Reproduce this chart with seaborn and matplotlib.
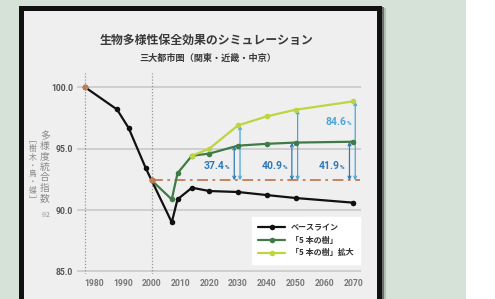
import seaborn as sns
import pandas as pd
import matplotlib.pyplot as plt
import numpy as np
from matplotlib.patches import Rectangle

# data
base_years = [1977, 1988, 1992, 1998, 2000, 2007, 2009, 2014, 2020, 2030, 2040, 2050, 2070]
base_vals = [100.0, 98.2, 96.7, 93.4, 92.42, 89.0, 90.87, 91.82, 91.55, 91.47, 91.22, 90.98, 90.6]

trees_years = [2000, 2007, 2009, 2014, 2020, 2030, 2040, 2050, 2070]
trees_vals = [92.42, 90.87, 93.0, 94.43, 94.6, 95.25, 95.4, 95.5, 95.57]

expand_years = [2014, 2020, 2030, 2040, 2050, 2070]
expand_vals = [94.43, 95.0, 96.9, 97.64, 98.18, 98.86]

ref_years = [1977, 2000]
ref_vals = [100.0, 92.42]
ref_level = 92.42

arrow_years = [2030, 2050, 2070]
trees_pct = ['37.4', '40.9', '41.9']
expand_pct = [None, None, '84.6']

series_labels = ['ベースライン', '「5 本の樹」', '「5 本の樹」拡大']
x_ticks = [1980, 1990, 2000, 2010, 2020, 2030, 2040, 2050, 2060, 2070]
y_ticks = [85, 90, 95, 100]

jp = ['Noto Sans CJK JP', 'DejaVu Sans']
num = ['Roboto', 'DejaVu Sans']

sns.set_style('white')
plt.rcParams['font.family'] = jp

fig = plt.figure(figsize=(4.95, 2.99), dpi=100)
W, H = 495, 299

def px(x0, y0, x1, y1, **kw):
    # rectangle in pixel coords (top-left origin)
    fig.add_artist(Rectangle((x0 / W, 1 - y1 / H), (x1 - x0) / W, (y1 - y0) / H,
                             transform=fig.transFigure, lw=0, **kw))

px(0, 0, 466, H, color='#d6e2d7', zorder=-20)
px(382, 8, 386, H, color='#b4bfb6', zorder=-19)
px(382, 7, 384, H, color='#6a706b', zorder=-19)
px(19, 6, 382, H + 5, color='#111111', zorder=-18)
px(24, 11, 377, H + 5, color='#efefef', zorder=-17)

ax = fig.add_axes([77 / W, 0.0843, 283.7 / W, 0.6726])
ax.set_facecolor('none')

black = '#111111'
green = '#3f7b47'
lime = '#bcd540'
orange = '#c47a55'
blue_d = '#3079b8'
blue_l = '#4aa6da'

for yv in y_ticks:
    ax.axhline(yv, color='#c9c9c9', lw=1.2, zorder=0)
for xv in ref_years:
    ax.axvline(xv, color='#a09090', lw=0.9, ls=(0, (1, 1.5)), zorder=0)

ax.plot([ref_years[1], 2072.5], [ref_level, ref_level], color=orange, lw=1.3,
        ls=(0, (6, 2.5, 1.5, 2.5)), zorder=1)

sns.lineplot(x=base_years, y=base_vals, ax=ax, color=black, lw=1.6, marker='o',
             markersize=4, markeredgewidth=0, label=series_labels[0], zorder=3)
sns.lineplot(x=trees_years, y=trees_vals, ax=ax, color=green, lw=1.6, marker='o',
             markersize=4, markeredgewidth=0, label=series_labels[1], zorder=4)
sns.lineplot(x=expand_years, y=expand_vals, ax=ax, color=lime, lw=1.6, marker='o',
             markersize=4, markeredgewidth=0, label=series_labels[2], zorder=4)
ax.scatter(ref_years, ref_vals, color=orange, s=18, lw=0, zorder=5)

# arrows to the baseline level
for i, yr in enumerate(arrow_years):
    tv = trees_vals[trees_years.index(yr)]
    ev = expand_vals[expand_years.index(yr)]
    ax.annotate('', xy=(yr - 1.3, tv), xytext=(yr - 1.3, ref_level),
                arrowprops=dict(arrowstyle='<->', color=blue_d, lw=0.9,
                                shrinkA=0, shrinkB=0, mutation_scale=5), zorder=2)
    ax.annotate('', xy=(yr + 0.7, ev), xytext=(yr + 0.7, ref_level),
                arrowprops=dict(arrowstyle='<->', color=blue_l, lw=0.9,
                                shrinkA=0, shrinkB=0, mutation_scale=5), zorder=2)
    ax.text(yr - 4.6, 93.6, trees_pct[i], ha='right', va='center', color=blue_d,
            fontsize=7.5, fontweight='bold', family=num)
    ax.text(yr - 4.6, 93.5, '%', ha='left', va='center', color=blue_d,
            fontsize=4.5, fontweight='bold', family=num)
    if expand_pct[i]:
        ax.text(yr - 2.4, 97.15, expand_pct[i], ha='right', va='center', color=blue_l,
                fontsize=7.5, fontweight='bold', family=num)
        ax.text(yr - 2.4, 97.05, '%', ha='left', va='center', color=blue_l,
                fontsize=4.5, fontweight='bold', family=num)

ax.set_xlim(1974.1, 2072.6)
ax.set_ylim(84.8, 101.2)
ax.set_xticks(x_ticks)
ax.set_yticks(y_ticks)
ax.set_xticklabels([str(v) for v in x_ticks], family=num, fontweight='bold',
                   fontsize=6.2, color='#777777')
ax.set_yticklabels([f'{v:.1f}' for v in y_ticks], family=num, fontweight='bold',
                   fontsize=6.2, color='#555555')
ax.tick_params(length=0, pad=3)
ax.tick_params(axis='x', pad=4)
ax.set_xlabel('')
ax.set_ylabel('')
sns.despine(ax=ax, left=True, bottom=True)

leg = ax.legend(loc='lower right', bbox_to_anchor=(0.998, 0.049), borderaxespad=0,
                frameon=True, fancybox=False, facecolor='white', edgecolor='white',
                framealpha=1, fontsize=5.8, handlelength=3.4, handletextpad=0.7,
                labelspacing=0.45, borderpad=0.8)
for t in leg.get_texts():
    t.set_color('#333333')
    t.set_fontweight('bold')

fig.text(207 / W, 1 - 40 / H, '生物多様性保全効果のシミュレーション', ha='center', va='center',
         fontsize=8.6, fontweight='bold', color='#3a3a3a')
fig.text(207.5 / W, 1 - 58 / H, '三大都市圏（関東・近畿・中京）', ha='center', va='center',
         fontsize=6.6, fontweight='bold', color='#3a3a3a')

fig.text(45 / W, 1 - 167 / H, '\n'.join('多様度統合指数'), ha='center', va='center',
         fontsize=7, color='#8a8a8a', linespacing=1.05)
fig.text(33 / W, 1 - 170 / H, '\n'.join('﹇樹木・鳥・蝶﹈'), ha='center', va='center',
         fontsize=5.6, color='#8a8a8a', linespacing=1.05)
fig.text(45 / W, 1 - 215 / H, '※2', ha='center', va='center',
         fontsize=4.5, color='#8a8a8a')

fig.savefig('out.png', dpi=100, facecolor='white')
